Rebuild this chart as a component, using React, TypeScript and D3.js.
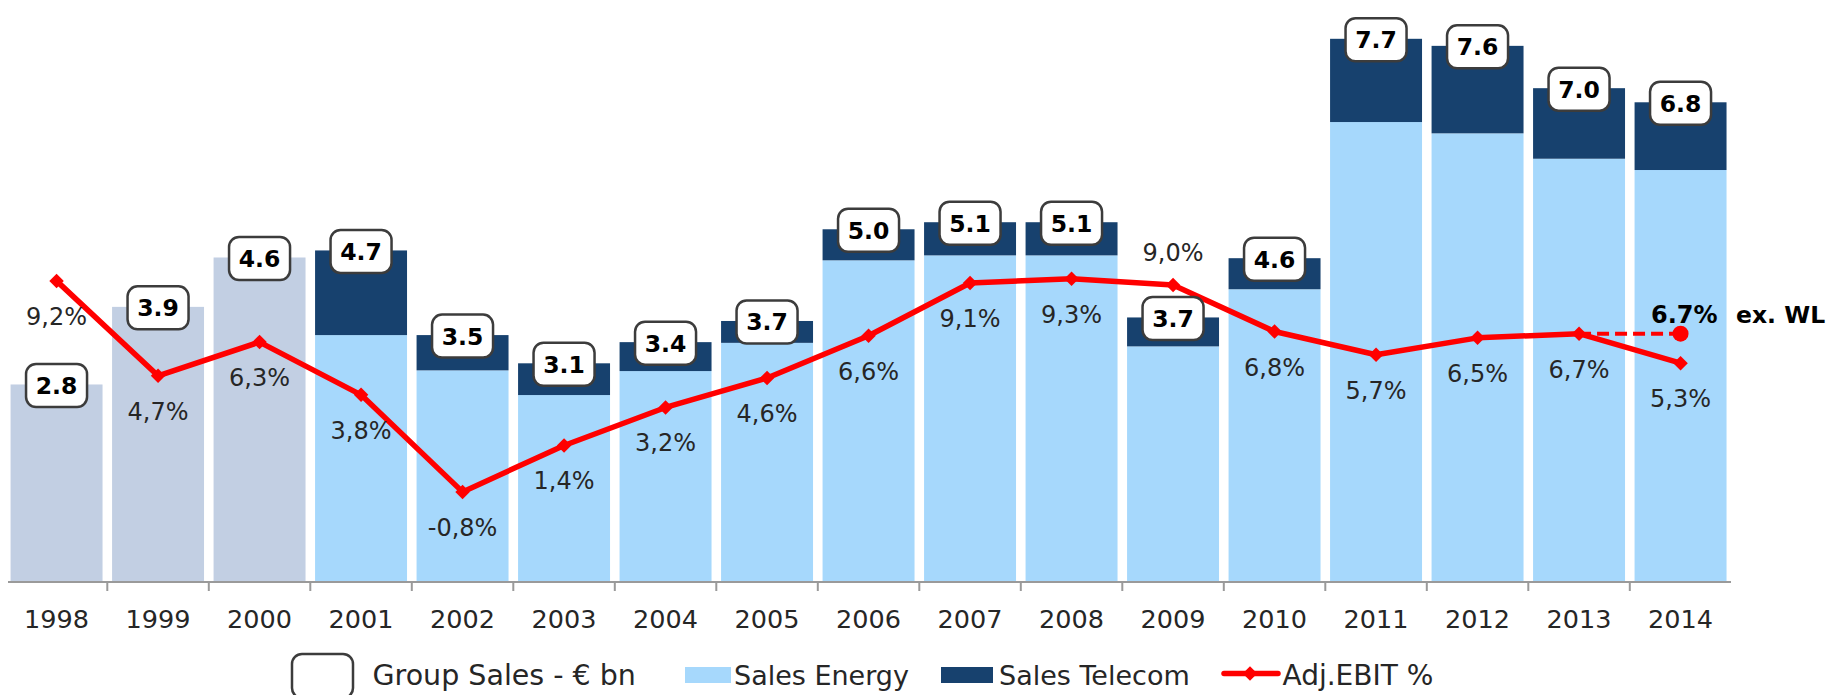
import React from "react";
import * as d3 from "d3";

// chart data
const years = [
  "1998", "1999", "2000", "2001", "2002", "2003", "2004", "2005", "2006",
  "2007", "2008", "2009", "2010", "2011", "2012", "2013", "2014",
];
// before 2001 only group sales are shown (no split)
const groupSales = [2.8, 3.9, 4.6, null, null, null, null, null, null, null, null, null, null, null, null, null, null];
const salesEnergy = [null, null, null, 3.5, 3.0, 2.65, 2.99, 3.39, 4.56, 4.63, 4.63, 3.34, 4.15, 6.52, 6.36, 6.0, 5.84];
const salesTelecom = [null, null, null, 1.2, 0.5, 0.45, 0.41, 0.31, 0.44, 0.47, 0.47, 0.41, 0.44, 1.18, 1.24, 1.0, 0.96];
const totalLabels = ["2.8", "3.9", "4.6", "4.7", "3.5", "3.1", "3.4", "3.7", "5.0", "5.1", "5.1", "3.7", "4.6", "7.7", "7.6", "7.0", "6.8"];
const adjEbit = [9.2, 4.7, 6.3, 3.8, -0.8, 1.4, 3.2, 4.6, 6.6, 9.1, 9.3, 9.0, 6.8, 5.7, 6.5, 6.7, 5.3];
const ebitLabelAbove = ["2009"];
// 2014 excluding WL, drawn from 2013
const exWlFrom = "2013";
const exWlYear = "2014";
const exWlValue = 6.7;

const legendItems = ["Group Sales - € bn", "Sales Energy", "Sales Telecom", "Adj.EBIT %"];

const W = 1837;
const H = 695;
const base = 582;
const FONT = "DejaVu Sans";

const C = {
  group: "#c2cfe3",
  energy: "#a6d8fc",
  telecom: "#17416e",
  line: "#ff0000",
  axis: "#9a9a9a",
  text: "#262626",
};

const pct = d3.formatLocale({ decimal: ",", thousands: ".", grouping: [3], currency: ["", "€"], minus: "-" }).format(".1f");

export default function App() {
  const x = d3.scaleBand().domain(years).range([5.8, 1731.3]).paddingInner(0.094).paddingOuter(0.047);
  const yBar = d3.scaleLinear().domain([0, 8.25]).range([base, 0]);
  const yPct = d3.scaleLinear().domain([-5, 22.5]).range([580.5, 0.25]);

  const cx = (yr: string) => (x(yr) as number) + x.bandwidth() / 2;
  const step = x.step();
  const diamond = d3.symbol(d3.symbolSquare, 105)();

  const line = d3.line<number>()
    .x((_, i) => cx(years[i]))
    .y((d) => yPct(d));

  const totals = years.map((_, i) =>
    groupSales[i] != null ? (groupSales[i] as number) : (salesEnergy[i] as number) + (salesTelecom[i] as number)
  );

  return (
    <svg width={W} height={H} style={{ position: "absolute", left: 0, top: 0, background: "#fff" }}>
      {/* bars */}
      {years.map((yr, i) => {
        const bx = x(yr) as number;
        const bw = x.bandwidth();
        if (groupSales[i] != null) {
          const v = groupSales[i] as number;
          return <rect key={yr} x={bx} y={yBar(v)} width={bw} height={base - yBar(v)} fill={C.group} />;
        }
        const e = salesEnergy[i] as number;
        const t = salesTelecom[i] as number;
        return (
          <g key={yr}>
            <rect x={bx} y={yBar(e)} width={bw} height={base - yBar(e)} fill={C.energy} />
            <rect x={bx} y={yBar(e + t)} width={bw} height={yBar(e) - yBar(e + t)} fill={C.telecom} />
          </g>
        );
      })}

      {/* axis */}
      <line x1={8} x2={1731} y1={base} y2={base} stroke={C.axis} strokeWidth={2} />
      {years.slice(1).map((yr) => {
        const tx = (x(yr) as number) - (step - x.bandwidth()) / 2;
        return <line key={yr} x1={tx} x2={tx} y1={base} y2={base + 9} stroke={C.axis} strokeWidth={2} />;
      })}
      {years.map((yr) => (
        <text key={yr} x={cx(yr)} y={627.5} textAnchor="middle" fontFamily={FONT} fontSize={25.5} fill={C.text}>
          {yr}
        </text>
      ))}

      {/* ex. WL dashed line */}
      <line
        x1={cx(exWlFrom)} y1={yPct(adjEbit[years.indexOf(exWlFrom)])}
        x2={cx(exWlYear)} y2={yPct(exWlValue)}
        stroke={C.line} strokeWidth={4} strokeDasharray="12 6"
      />
      <circle cx={cx(exWlYear)} cy={yPct(exWlValue)} r={8} fill={C.line} />
      <text x={1651} y={323} fontFamily={FONT} fontSize={24} fontWeight="bold" fill="#000">
        {`${d3.format(".1f")(exWlValue)}%`}
      </text>
      <text x={1736} y={323} fontFamily={FONT} fontSize={23.5} fontWeight="bold" fill="#000">ex. WL</text>

      {/* EBIT line */}
      <path d={line(adjEbit) ?? ""} fill="none" stroke={C.line} strokeWidth={5.5} strokeLinejoin="round" />
      {adjEbit.map((v, i) => (
        <path key={years[i]} d={diamond ?? ""} transform={`translate(${cx(years[i])},${yPct(v)}) rotate(45)`} fill={C.line} />
      ))}
      {adjEbit.map((v, i) => {
        const above = ebitLabelAbove.includes(years[i]);
        return (
          <text key={years[i]} x={cx(years[i])} y={yPct(v) + (above ? -24 : 44)} textAnchor="middle"
            fontFamily={FONT} fontSize={24} fill={C.text}>
            {pct(v)}%
          </text>
        );
      })}

      {/* group sales boxes */}
      {years.map((yr, i) => {
        const by = yBar(totals[i]);
        return (
          <g key={yr} transform={`translate(${cx(yr)},${by + 1})`}>
            <rect x={-30.5} y={-21.5} width={61} height={43} rx={10} fill="#fff" stroke="#3c3c3c" strokeWidth={2.5} />
            <text y={8.5} textAnchor="middle" fontFamily={FONT} fontSize={23.5} fontWeight="bold" fill="#000">
              {totalLabels[i]}
            </text>
          </g>
        );
      })}

      {/* legend */}
      <g fontFamily={FONT} fontSize={27} fill={C.text}>
        <rect x={292} y={654} width={61} height={44} rx={10} fill="#fff" stroke="#3c3c3c" strokeWidth={2.5} />
        <text x={372.5} y={685} fontSize={28.5}>{legendItems[0]}</text>
        <rect x={685} y={667} width={46} height={16} fill={C.energy} />
        <text x={734} y={685}>{legendItems[1]}</text>
        <rect x={941} y={667} width={52} height={16} fill={C.telecom} />
        <text x={999} y={685}>{legendItems[2]}</text>
        <line x1={1224} x2={1278} y1={673.5} y2={673.5} stroke={C.line} strokeWidth={5.5} strokeLinecap="round" />
        <path d={diamond ?? ""} transform="translate(1250,673.5) rotate(45)" fill={C.line} />
        <text x={1282.5} y={685} fontSize={28}>{legendItems[3]}</text>
      </g>
    </svg>
  );
}
